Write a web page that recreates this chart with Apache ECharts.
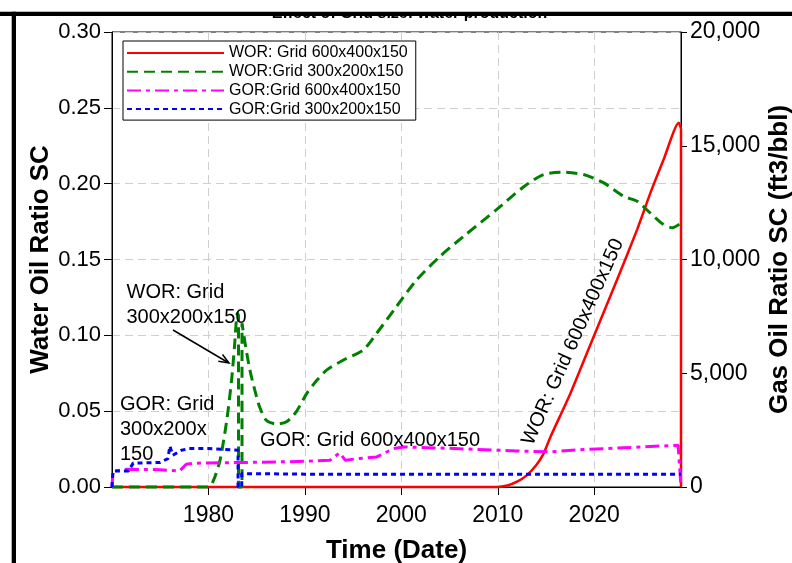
<!DOCTYPE html>
<html><head><meta charset="utf-8">
<script src="https://cdn.jsdelivr.net/npm/echarts@6/dist/echarts.min.js"></script>
<style>html,body{margin:0;padding:0;background:#fff}#c{width:792px;height:563px}</style>
</head><body><div id="c"></div>
<script>
// ---- data (year, value) ----
const worFine = [[1970,0],[2009.9,0],[2011,0.001],[2012,0.0035],[2013,0.0077],[2014,0.0145],[2014.75,0.022],[2015.46,0.033],[2017.53,0.0617],[2019.94,0.0991],[2022.37,0.1366],[2024.45,0.1697],[2025.83,0.1939],[2027.2,0.2159],[2028.76,0.2401],[2029.0,0.236],[2029.0,0]];
const worCoarse = [[1970,0],[1980,0],[1980.5,0.004],[1981.2,0.0176],[1981.9,0.044],[1982.4,0.0705],[1982.7,0.0925],[1983.0,0.1146],[1983.12,0.113],[1983.12,0],[1983.48,0],[1983.48,0.108],[1983.8,0.0948],[1984.3,0.0771],[1984.8,0.064],[1985.3,0.0529],[1986.0,0.044],[1987.1,0.0415],[1988.1,0.043],[1989.1,0.0496],[1990.2,0.0617],[1991.2,0.070],[1992.25,0.0771],[1994.0,0.0837],[1996.05,0.0903],[1997.45,0.1014],[1999.5,0.119],[2001.6,0.1366],[2004.0,0.152],[2006.4,0.165],[2009.9,0.183],[2012.7,0.198],[2014.75,0.206],[2016.8,0.2075],[2018.9,0.206],[2021.0,0.2005],[2023.05,0.1917],[2024.45,0.1884],[2025.8,0.1807],[2027.2,0.173],[2028.1,0.171],[2029.0,0.174]];
const gorFine = [[1970,0],[1970.1,700],[1971.5,780],[1975,760],[1977,700],[1977.7,1000],[1978.5,1040],[1980,1060],[1983,1075],[1987,1100],[1990,1130],[1992.6,1176],[1993.6,1498],[1994.2,1176],[1995.5,1250],[1997.45,1322],[1999.2,1690],[2000.2,1762],[2005,1700],[2009.9,1617],[2012,1580],[2015.45,1542],[2018.9,1647],[2024,1740],[2028.7,1837],[2029.0,0]];
const gorCoarse = [[1970,0],[1970.1,705],[1971.7,705],[1972.2,1050],[1975,1080],[1975.8,1250],[1976.0,1806],[1976.3,1396],[1977.2,1617],[1978,1690],[1980,1690],[1983.07,1617],[1983.07,0],[1983.45,0],[1983.45,590],[1990,565],[2029,560]];
const seriesNames = ['WOR: Grid 600x400x150','WOR:Grid 300x200x150','GOR:Grid 600x400x150','GOR:Grid 300x200x150'];
const xRange = [1970, 2029];
const worTicks = [0, 0.30, 0.05];
const gorTicks = [0, 20000, 5000];

const FONT = '"Liberation Sans", Arial, sans-serif';
const chart = echarts.init(document.getElementById('c'), null, {renderer:'canvas'});
const gridLine = {show:true, lineStyle:{color:'#cfcfcf', width:1, type:[8,5]}};
const ax = {lineStyle:{color:'#000', width:1}};
function mkSeries(name, data, yIdx, color, width, type, smooth){
  return {name, type:'line', data, yAxisIndex:yIdx, symbol:'none', showSymbol:false, clip:false, smooth:smooth||false,
    lineStyle:{color, width, type}, itemStyle:{color}, emphasis:{disabled:true}};
}
chart.setOption({
  animation:false,
  backgroundColor:'#fff',
  textStyle:{fontFamily:FONT},
  grid:{left:112, right:111, top:32, bottom:76, show:true, borderColor:'#000', borderWidth:1, outerBoundsMode:'none', containLabel:false},
  legend:{
    left:123, top:41, orient:'vertical', itemWidth:97, itemHeight:16, itemGap:2.7,
    padding:[4,8,3,3], borderColor:'#000', borderWidth:1, backgroundColor:'#fff',
    textStyle:{fontSize:16, color:'#000', fontFamily:FONT, lineHeight:16},
    itemStyle:{opacity:0},
    data:seriesNames, z:20
  },
  xAxis:{
    type:'value', min:xRange[0], max:xRange[1], interval:10,
    name:'Time (Date)', nameLocation:'middle', nameGap:51, nameMoveOverlap:false,
    nameTextStyle:{fontSize:26, fontWeight:'bold', color:'#000', fontFamily:FONT},
    axisLine:ax, axisTick:{show:true, length:8, inside:false, lineStyle:{color:'#000'}},
    axisLabel:{fontSize:23, color:'#000', margin:17, showMinLabel:false, showMaxLabel:false, fontFamily:FONT,
      formatter:v=>String(Math.round(v))},
    splitLine:gridLine
  },
  yAxis:[{
    type:'value', min:worTicks[0], max:worTicks[1], interval:worTicks[2], position:'left',
    name:'Water Oil Ratio SC', nameLocation:'middle', nameGap:58, nameRotate:90, nameMoveOverlap:false,
    nameTextStyle:{fontSize:26, fontWeight:'bold', color:'#000', fontFamily:FONT},
    axisLine:{show:true, lineStyle:{color:'#000', width:1}}, axisTick:{show:true, length:8, lineStyle:{color:'#000'}},
    axisLabel:{fontSize:22, color:'#000', margin:11, fontFamily:FONT, formatter:v=>v.toFixed(2)},
    splitLine:gridLine
  },{
    type:'value', min:gorTicks[0], max:gorTicks[1], interval:gorTicks[2], position:'right',
    name:'Gas Oil Ratio SC (ft3/bbl)', nameLocation:'middle', nameGap:86, nameRotate:90, nameMoveOverlap:false,
    nameTextStyle:{fontSize:26, fontWeight:'bold', color:'#000', fontFamily:FONT},
    axisLine:{show:true, lineStyle:{color:'#000', width:1}}, axisTick:{show:true, length:6, lineStyle:{color:'#000'}},
    axisLabel:{fontSize:23, color:'#000', margin:9, fontFamily:FONT,
      formatter:v=>v.toLocaleString('en-US')},
    splitLine:{show:false}
  }],
  series:[
    mkSeries(seriesNames[0], worFine, 0, '#ff0000', 2.5, 'solid', 0.2),
    mkSeries(seriesNames[1], worCoarse, 0, '#008000', 3, [11,6], 0.25),
    mkSeries(seriesNames[2], gorFine, 1, '#ff00ff', 3, [14,5,4,5]),
    mkSeries(seriesNames[3], gorCoarse, 1, '#0000ff', 3, [5,4])
  ],
  graphic:[
    {type:'text', z:30, x:409.5, y:13.5, style:{text:'Effect of Grid size: water production', font:'bold 16px '+FONT, fill:'#000', align:'center', verticalAlign:'middle'}},
    {type:'rect', z:31, shape:{x:0,y:0,width:792,height:12}, style:{fill:'#fff'}},
    {type:'rect', z:32, shape:{x:0,y:11.7,width:792,height:4.3}, style:{fill:'#000'}},
    {type:'rect', z:32, shape:{x:11.7,y:11.7,width:4.3,height:552}, style:{fill:'#000'}},
    {type:'text', z:25, x:126.5, y:280, style:{text:'WOR: Grid\n300x200x150', font:'20px '+FONT, fill:'#000', lineHeight:25, verticalAlign:'top'}},
    {type:'line', z:25, shape:{x1:173,y1:330,x2:228,y2:362.5}, style:{stroke:'#000', lineWidth:1.5}},
    {type:'polyline', z:25, shape:{points:[[218.3,361.3],[229,363],[222.5,354.5]]}, style:{stroke:'#000', lineWidth:1.5, fill:null}},
    {type:'text', z:25, x:120, y:391.5, style:{text:'GOR: Grid\n300x200x\n150', font:'20px '+FONT, fill:'#000', lineHeight:25, verticalAlign:'top'}},
    {type:'text', z:25, x:260, y:440, style:{text:'GOR: Grid 600x400x150', font:'20px '+FONT, fill:'#000', verticalAlign:'middle'}},
    {type:'text', z:25, x:573, y:342, rotation:66*Math.PI/180, style:{text:'WOR: Grid 600x400x150', font:'20px '+FONT, fill:'#000', align:'center', verticalAlign:'middle'}}
  ]
});
</script></body></html>
